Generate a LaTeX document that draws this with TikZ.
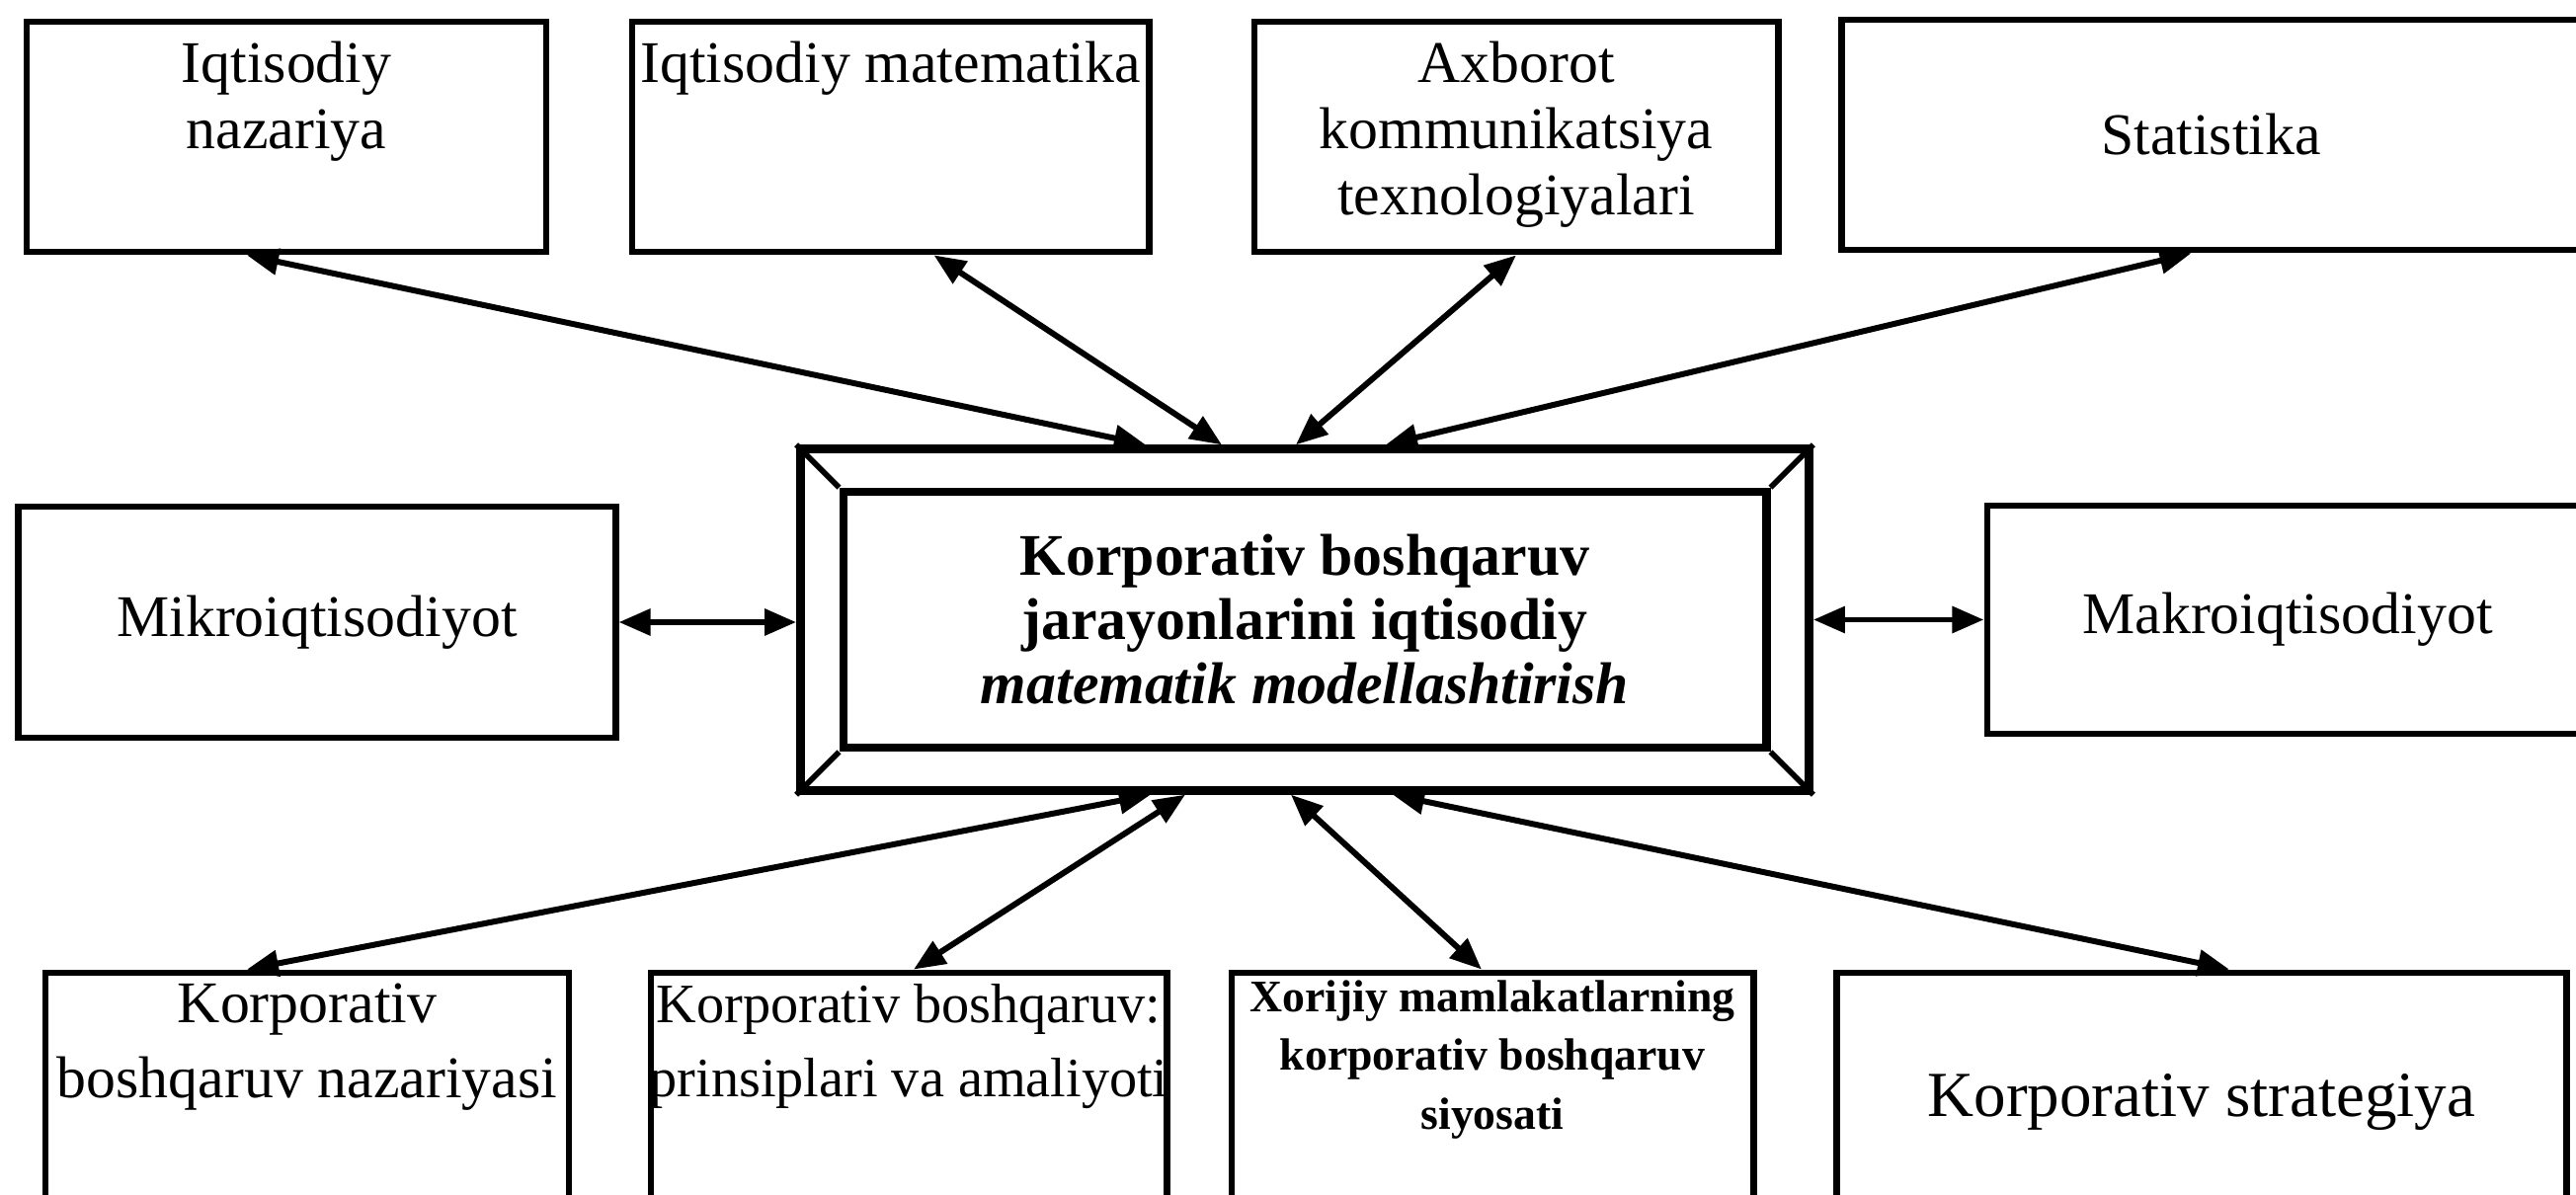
\documentclass[tikz,border=0pt]{standalone}
\usepackage{fontspec}
\setmainfont{Liberation Serif}
\usetikzlibrary{arrows.meta,positioning}
\tikzset{
  box/.style={draw=black,line width=1.9pt,inner sep=0pt,fill=white,align=center,font=\fontsize{17}{19}\selectfont},
  lbl/.style={inner sep=0pt,align=center,font=\fontsize{17}{19}\selectfont},
  corebox/.style={draw=black,line width=2.6pt,inner sep=0pt,fill=white},
  link/.style={{Triangle[length=3.2mm,width=2.6mm]}-{Triangle[length=3.2mm,width=2.6mm]},line width=1.7pt},
  bevel/.style={line width=1.6pt}
}
\begin{document}
\begin{tikzpicture}[x=0.01cm,y=-0.01cm]
  \useasboundingbox (0,0) rectangle (2608,1210);
  % top row
  \node[box,minimum width=5.26cm,minimum height=2.33cm] (nazariya) at (290,138.5) {};
  \node[box,minimum width=5.23cm,minimum height=2.33cm] (matem) at (901.5,138.5) {};
  \node[box,minimum width=5.30cm,minimum height=2.33cm] (axborot) at (1535,138.5) {};
  \node[box,minimum width=7.47cm,minimum height=2.33cm] (statist) at (2238.5,136.5) {Statistika};
  \node[lbl,below=0.23cm of nazariya.north] (tnazariya) {Iqtisodiy\\nazariya};
  \node[lbl,below=0.23cm of matem.north] (tmatem) {Iqtisodiy matematika};
  \node[lbl,below=0.23cm of axborot.north] (taxborot) {Axborot\\kommunikatsiya\\texnologiyalari};
  % middle row
  \node[box,minimum width=6.04cm,minimum height=2.34cm] (micro) at (321,630) {Mikroiqtisodiyot};
  \node[box,minimum width=6.08cm,minimum height=2.31cm] (makro) at (2316,627.5) {Makroiqtisodiyot};
  \node[corebox,minimum width=10.20cm,minimum height=3.45cm] (core) at (1321,627.5) {};
  \node[corebox,line width=2.4pt,minimum width=9.34cm,minimum height=2.59cm,align=center,
        font=\fontsize{17}{18.5}\selectfont\bfseries] (coreIn) at (core)
        {Korporativ boshqaruv\\jarayonlarini iqtisodiy\\{\itshape matematik modellashtirish}};
  \foreach \c in {north west,north east,south west,south east}
    \draw[bevel] (core.\c) -- (coreIn.\c);
  % bottom row
  \node[box,minimum width=5.30cm,minimum height=2.62cm] (korpnaz) at (311,1116) {};
  \node[box,minimum width=5.22cm,minimum height=2.62cm] (prinsip) at (920,1116) {};
  \node[box,minimum width=5.28cm,minimum height=2.62cm] (xorijiy) at (1511,1116) {};
  \node[box,minimum width=7.38cm,minimum height=2.62cm,font=\fontsize{18.5}{21}\selectfont] (strateg) at (2229,1116) {Korporativ strategiya};
  \node[lbl,below=0.14cm of korpnaz.north,font=\fontsize{17}{21.6}\selectfont] (tkorpnaz) {Korporativ\\boshqaruv nazariyasi};
  \node[lbl,below=0.14cm of prinsip.north,font=\fontsize{16}{21.3}\selectfont] (tprinsip) {Korporativ boshqaruv:\\prinsiplari va amaliyoti};
  \node[lbl,below=0.10cm of xorijiy.north,font=\fontsize{13}{17}\selectfont\bfseries] (txorijiy) {Xorijiy mamlakatlarning\\korporativ boshqaruv\\siyosati};
  % links
  \draw[link] ([xshift=-0.40cm]nazariya.south) -- ([xshift=-1.61cm]core.north);
  \draw[link] ([xshift=0.44cm]matem.south) -- ([xshift=-0.84cm]core.north);
  \draw[link] (axborot.south) -- ([xshift=-0.09cm]core.north);
  \draw[link] ([xshift=-0.20cm]statist.south) -- ([xshift=0.82cm]core.north);
  \draw[link] (micro.east) -- (micro.east -| core.west);
  \draw[link] (core.east) -- (core.east -| makro.west);
  \draw[link] ([xshift=-1.56cm]core.south) -- ([xshift=-0.61cm]korpnaz.north);
  \draw[link] ([xshift=-1.21cm]core.south) -- ([xshift=0.05cm]prinsip.north);
  \draw[link] ([xshift=-0.14cm]core.south) -- ([xshift=-0.11cm]xorijiy.north);
  \draw[link] ([xshift=0.89cm]core.south) -- ([xshift=0.28cm]strateg.north);
\end{tikzpicture}
\end{document}
